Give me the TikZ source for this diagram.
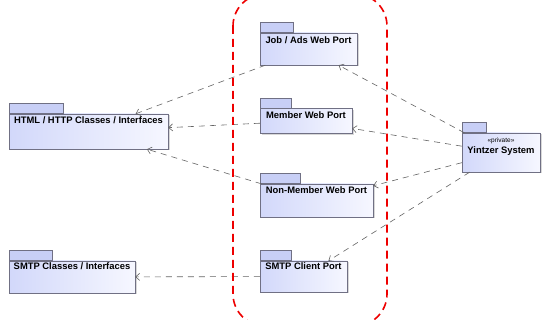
\documentclass[tikz,border=0pt]{standalone}
\usepackage{fontspec}
\setmainfont{Liberation Sans}
\usetikzlibrary{positioning,arrows.meta,shadows}

\definecolor{pkgline}{RGB}{112,112,132}
\definecolor{pkgfill}{RGB}{210,216,250}
\definecolor{pkglight}{RGB}{246,247,255}
\definecolor{tabfill}{RGB}{200,207,246}
\definecolor{depline}{RGB}{100,100,100}
\definecolor{portred}{RGB}{238,0,0}

\begin{document}
\begin{tikzpicture}[x=1pt,y=-1pt,
    body/.style={draw=pkgline,left color=pkgfill,right color=pkglight,inner sep=0pt,
        drop shadow={shadow xshift=1.5pt,shadow yshift=-1.5pt,fill=gray!60,opacity=.5}},
    tab/.style={draw=pkgline,fill=tabfill,inner sep=0pt,minimum height=10pt,anchor=south west},
    pkgtext/.style={inner sep=1pt,font=\fontsize{9.4}{11}\selectfont\bfseries},
    dep/.style={draw=depline,line width=.6pt,dash pattern=on 6pt off 5pt,
        -{Straight Barb[length=4pt,width=7pt]}},
    portframe/.style={draw=portred,line width=1.6pt,dash pattern=on 8pt off 5pt,rounded corners=32pt}]

    \useasboundingbox[fill=white] (0,0) rectangle (542,320);

    % packages
    \node (html) at (88.5,131.5) [body,minimum width=159pt,minimum height=35pt] {};
    \node (htmltab) at (html.north west) [tab,minimum width=54pt] {};
    \node (htmltxt) [pkgtext,below=2pt of html.north] {HTML / HTTP Classes / Interfaces};

    \node (smtp) at (72,277) [body,minimum width=126pt,minimum height=32pt] {};
    \node (smtptab) at (smtp.north west) [tab,minimum width=43pt] {};
    \node (smtptxt) [pkgtext,below=1pt of smtp.north] {SMTP Classes / Interfaces};

    \node (job) at (308.5,49) [body,minimum width=97pt,minimum height=32pt] {};
    \node (jobtab) at (job.north west) [tab,minimum width=33pt] {};
    \node (jobtxt) [pkgtext,below=3pt of job.north] {Job / Ads Web Port};

    \node (member) at (306,121) [body,minimum width=92pt,minimum height=25pt] {};
    \node (membertab) at (member.north west) [tab,minimum width=31pt] {};
    \node (membertxt) [pkgtext,below=2pt of member.north] {Member Web Port};

    \node (nonmember) at (316.5,200.5) [body,minimum width=113pt,minimum height=33pt] {};
    \node (nonmembertab) at (nonmember.north west) [tab,minimum width=40pt] {};
    \node (nonmembertxt) [pkgtext,below=2pt of nonmember.north] {Non-Member Web Port};

    \node (smtpclient) at (303.5,276.5) [body,minimum width=87pt,minimum height=31pt] {};
    \node (smtpclienttab) at (smtpclient.north west) [tab,minimum width=31pt] {};
    \node (smtpclienttxt) [pkgtext,below=1pt of smtpclient.north] {SMTP Client Port};

    \node (yintzer) at (501,152.5) [body,minimum width=78pt,minimum height=39pt] {};
    \node (yintzertab) at (yintzer.north west) [tab,minimum width=24pt] {};
    \node (yintzerster) [inner sep=1pt,font=\fontsize{6.5}{7}\selectfont,below=4pt of yintzer.north] {«private»};
    \node (yintzertxt) [pkgtext,below=0pt of yintzerster] {Yintzer System};

    % dependencies
    \draw[dep] (job) -- (html);
    \draw[dep] (member) -- (html);
    \draw[dep] (nonmember) -- (html);
    \draw[dep] (yintzer) -- (job);
    \draw[dep] (yintzer) -- (member);
    \draw[dep] (yintzer) -- (nonmember);
    \draw[dep] (yintzer) -- (smtpclient);
    \draw[dep] (smtpclient) -- (smtp);

    % web ports group
    \draw[portframe] (233,-6) rectangle (387,326);
\end{tikzpicture}
\end{document}
